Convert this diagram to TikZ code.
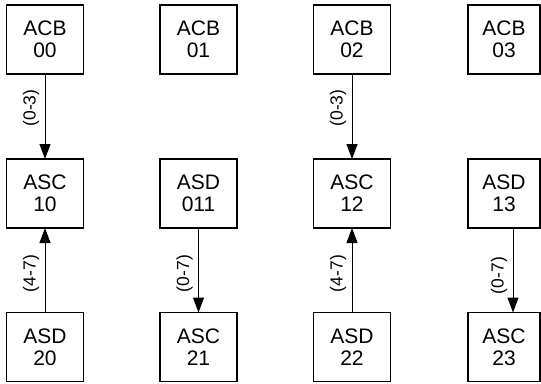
\documentclass[tikz,border=0pt]{standalone}
\usepackage{fontspec}
\setmainfont{Liberation Sans}
\usetikzlibrary{arrows.meta}
\begin{document}
\begin{tikzpicture}[x=1pt,y=-1pt,
  blk/.style={draw=black, line width=1.2pt, minimum width=77pt, minimum height=69pt,
    inner sep=0pt, outer sep=0pt, align=center, font=\fontsize{21}{22}\selectfont},
  conn/.style={line width=1pt, -{Triangle[length=15pt,width=11pt]}},
  lab/.style={xshift=-14pt, rotate=90, inner sep=0pt, font=\fontsize{17.5}{18}\selectfont}]
\useasboundingbox (0,0) rectangle (541,383);
% row 1
\node[blk] (a00) at (45,39.5) {ACB\\00};
\node[blk] (a01) at (198.5,39.5) {ACB\\01};
\node[blk] (a02) at (352,39.5) {ACB\\02};
\node[blk, minimum width=72pt] (a03) at (504,39.5) {ACB\\03};
% row 2
\node[blk] (b10) at (45,193.5) {ASC\\10};
\node[blk] (b11) at (198.5,193.5) {ASD\\011};
\node[blk] (b12) at (352,193.5) {ASC\\12};
\node[blk, minimum width=72pt] (b13) at (504,193.5) {ASD\\13};
% row 3
\node[blk] (c20) at (45,347) {ASD\\20};
\node[blk] (c21) at (198.5,347) {ASC\\21};
\node[blk] (c22) at (352,347) {ASD\\22};
\node[blk, minimum width=72pt] (c23) at (504,347) {ASC\\23};
% connectors
\draw[conn] (a00) -- (b10) node[lab, pos=0.4] {(0-3)};
\draw[conn] (a02) -- (b12) node[lab, pos=0.4] {(0-3)};
\draw[conn] (c20) -- (b10) node[lab, pos=0.46] {(4-7)};
\draw[conn] (b11) -- (c21) node[lab, pos=0.54] {(0-7)};
\draw[conn] (c22) -- (b12) node[lab, pos=0.46] {(4-7)};
\draw[conn] ([xshift=9pt]b13.south) -- ([xshift=9pt]c23.north) node[lab, pos=0.54, xshift=-2pt] {(0-7)};
\end{tikzpicture}
\end{document}
